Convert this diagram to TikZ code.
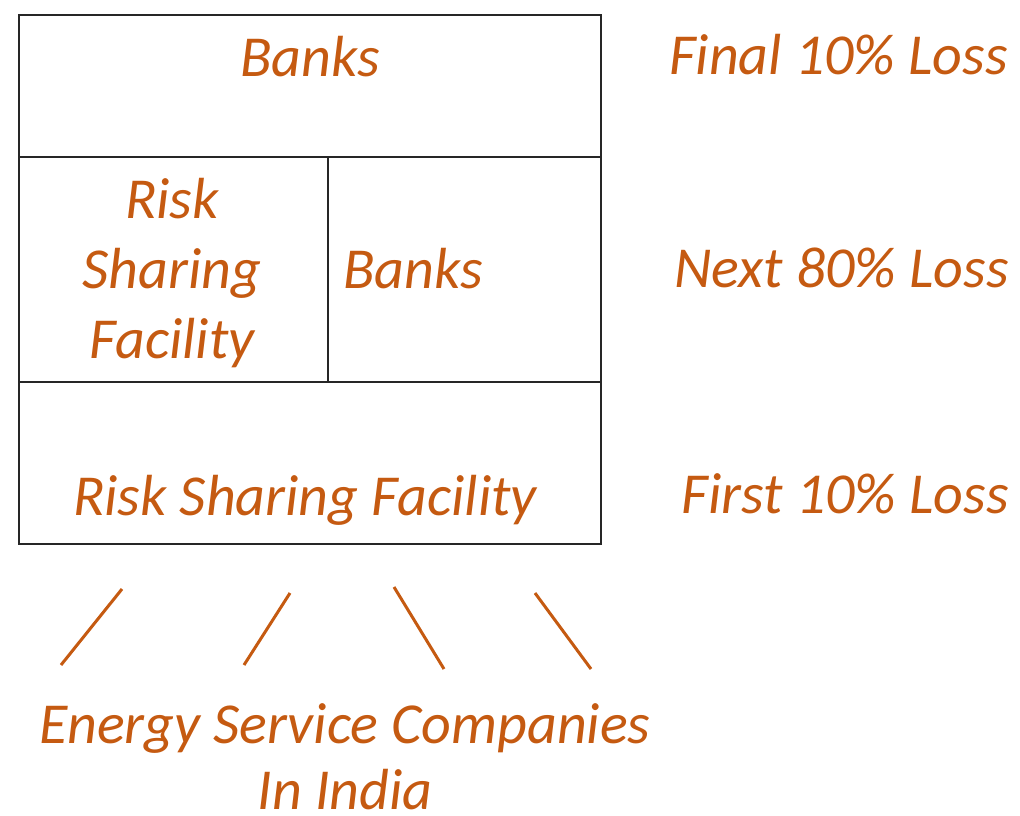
\documentclass[tikz,border=0pt]{standalone}
\usepackage{fontspec}
\setmainfont{Carlito}
\definecolor{txtor}{HTML}{C55A11}
\definecolor{boxln}{HTML}{262626}
\begin{document}
\begin{tikzpicture}[x=1pt,y=-1pt,
  lbl/.style={text=txtor,font=\itshape\fontsize{58}{70}\selectfont,inner sep=0pt,anchor=base},
  cell/.style={draw=boxln,line width=2pt,inner sep=0pt,anchor=north west},
  tie/.style={draw=txtor,line width=3pt}]
\useasboundingbox (0,0) rectangle (1020,815);
% cells
\node[cell,minimum width=582pt,minimum height=142pt] (top) at (18,14) {};
\node[cell,minimum width=309pt,minimum height=225pt] (midl) at (18,156) {};
\node[cell,minimum width=273pt,minimum height=225pt] (midr) at (327,156) {};
\node[cell,minimum width=582pt,minimum height=162pt] (bot) at (18,381) {};
% texts
\node[lbl] (t1) at (310,76) {Banks};
\node[lbl] (t2a) at (172,218) {Risk};
\node[lbl] (t2b) at (172,288) {Sharing};
\node[lbl] (t2c) at (172,358) {Facility};
\node[lbl,anchor=base west] (t3) at (343,288) {Banks};
\node[lbl] (t4) at (305,515) {Risk Sharing Facility};
\node[lbl,anchor=base east] (l1) at (1008,74) {Final 10\% Loss};
\node[lbl,anchor=base east] (l2) at (1009,287) {Next 80\% Loss};
\node[lbl,anchor=base east] (l3) at (1009,513) {First 10\% Loss};
\node[lbl] (e1) at (345,743) {Energy Service Companies};
\node[lbl] (e2) at (345,809) {In India};
% ties
\coordinate (a1) at (122,589); \coordinate (a2) at (61,665);
\coordinate (b1) at (290,593); \coordinate (b2) at (244,665);
\coordinate (c1) at (394,587); \coordinate (c2) at (444,669);
\coordinate (d1) at (535,593); \coordinate (d2) at (591,669);
\draw[tie] (a1) -- (a2);
\draw[tie] (b1) -- (b2);
\draw[tie] (c1) -- (c2);
\draw[tie] (d1) -- (d2);
\end{tikzpicture}
\end{document}
